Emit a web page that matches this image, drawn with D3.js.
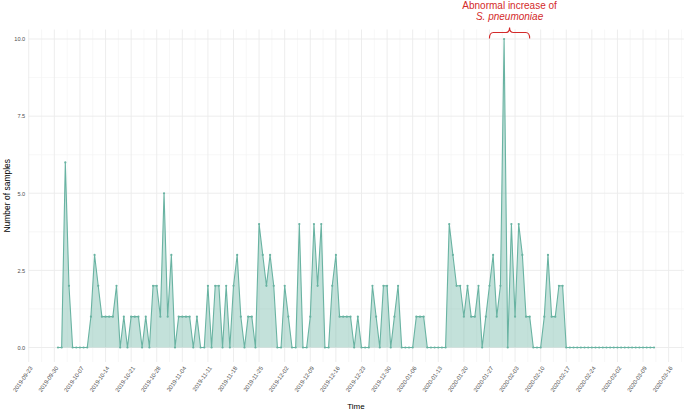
<!DOCTYPE html>
<html>
<head>
<meta charset="utf-8">
<script src="https://cdn.jsdelivr.net/npm/d3@7"></script>
<style>
  body { margin: 0; background: #fff; }
  text { font-family: "Liberation Sans", Arial, sans-serif; }
</style>
</head>
<body>
<svg id="chart" width="685" height="410"></svg>
<script>
const width = 685
const height = 410

// daily sample counts, starting 2019-10-01
const startDay = "2019-10-01"
const counts = [
  0, 0, 6, 2, 0, 0, 0, 0, 0, 1, 3, 2, 1, 1, 1, 1, 2, 0, 1, 0, 1, 1, 1, 0, 1, 0, 2, 2, 1, 5, 1, 3, 0, 1, 1, 1, 1,
  0, 1, 0, 0, 2, 0, 2, 2, 0, 2, 0, 2, 3, 1, 0, 1, 1, 0, 4, 3, 2, 3, 2, 0, 0, 2, 1, 0, 0, 4, 0, 0, 1, 4, 2, 4, 0, 0,
  2, 3, 1, 1, 1, 1, 0, 1, 0, 0, 0, 2, 1, 0, 2, 2, 0, 1, 2, 0, 0, 0, 0, 1, 1, 1, 0, 0, 0, 0, 0, 0, 4, 3, 2, 2, 1, 2,
  1, 1, 2, 0, 1, 2, 3, 1, 2, 10, 0, 4, 1, 4, 3, 1, 1, 0, 0, 0, 1, 3, 1, 1, 2, 2, 0,
  0, 0, 0, 0, 0, 0, 0, 0, 0, 0, 0, 0, 0, 0, 0, 0, 0, 0, 0, 0, 0, 0, 0, 0
]

const xTickLabels = [
  "2019-09-23", "2019-09-30", "2019-10-07", "2019-10-14", "2019-10-21", "2019-10-28",
  "2019-11-04", "2019-11-11", "2019-11-18", "2019-11-25", "2019-12-02", "2019-12-09",
  "2019-12-16", "2019-12-23", "2019-12-30", "2020-01-06", "2020-01-13", "2020-01-20",
  "2020-01-27", "2020-02-03", "2020-02-10", "2020-02-17", "2020-02-24", "2020-03-02",
  "2020-03-09", "2020-03-16"
]
const yTicks = [0, 2.5, 5, 7.5, 10]
const yMinor = [1.25, 3.75, 6.25, 8.75]

const annotationLines = ["Abnormal increase of", "S. pneumoniae"]
const bracketDays = ["2020-01-27", "2020-02-07"]

const parse = d3.utcParse("%Y-%m-%d")
const fmt = d3.utcFormat("%Y-%m-%d")
const start = parse(startDay)
const data = counts.map((v, i) => ({ date: d3.utcDay.offset(start, i), value: v }))

const x = d3
  .scaleUtc()
  .domain(d3.extent(data, (d) => d.date))
  .range([58, 654])

const y = d3.scaleLinear().domain([0, 10]).range([347.5, 39])

const pad = 0.05 * (x.range()[1] - x.range()[0])
const panelLeft = x.range()[0] - pad
const panelRight = x.range()[1] + pad
const panelTop = 29.5
const panelBottom = 362

const svg = d3.select("#chart")

const grid = svg.append("g")

// minor vertical lines halfway between weekly ticks
const majorDates = xTickLabels.map(parse)
const minorDates = majorDates.map((d) => new Date(+d + 3.5 * 864e5))

grid
  .selectAll("line.vminor")
  .data(minorDates.filter((d) => x(d) < panelRight))
  .join("line")
  .attr("x1", (d) => x(d))
  .attr("x2", (d) => x(d))
  .attr("y1", panelTop)
  .attr("y2", panelBottom)
  .attr("stroke", "#f3f3f3")
  .attr("stroke-width", 0.7)

grid
  .selectAll("line.hminor")
  .data(yMinor)
  .join("line")
  .attr("x1", panelLeft)
  .attr("x2", panelRight)
  .attr("y1", (d) => y(d))
  .attr("y2", (d) => y(d))
  .attr("stroke", "#f3f3f3")
  .attr("stroke-width", 0.7)

grid
  .selectAll("line.vmajor")
  .data(majorDates)
  .join("line")
  .attr("x1", (d) => x(d))
  .attr("x2", (d) => x(d))
  .attr("y1", panelTop)
  .attr("y2", panelBottom)
  .attr("stroke", "#ebebeb")
  .attr("stroke-width", 0.9)

grid
  .selectAll("line.hmajor")
  .data(yTicks)
  .join("line")
  .attr("x1", panelLeft)
  .attr("x2", panelRight)
  .attr("y1", (d) => y(d))
  .attr("y2", (d) => y(d))
  .attr("stroke", "#ebebeb")
  .attr("stroke-width", 0.9)

// area + line + points
const color = "#69b3a2"

const area = d3
  .area()
  .x((d) => x(d.date))
  .y0(y(0))
  .y1((d) => y(d.value))

const line = d3
  .line()
  .x((d) => x(d.date))
  .y((d) => y(d.value))

svg.append("path").datum(data).attr("d", area).attr("fill", color).attr("fill-opacity", 0.4)

svg
  .append("path")
  .datum(data)
  .attr("d", line)
  .attr("fill", "none")
  .attr("stroke", color)
  .attr("stroke-width", 1.1)

svg
  .append("g")
  .selectAll("circle")
  .data(data)
  .join("circle")
  .attr("cx", (d) => x(d.date))
  .attr("cy", (d) => y(d.value))
  .attr("r", 1.1)
  .attr("fill", color)

// y axis labels
const yAxis = d3
  .axisLeft(y)
  .tickValues(yTicks)
  .tickFormat(d3.format(".1f"))
  .tickSize(0)
  .tickPadding(3)

svg
  .append("g")
  .attr("transform", `translate(${panelLeft},0)`)
  .call(yAxis)
  .call((g) => g.select(".domain").remove())
  .selectAll("text")
  .attr("fill", "#4d4d4d")
  .style("font-size", "5.6px")

// x axis labels, rotated
const xAxis = d3
  .axisBottom(x)
  .tickValues(majorDates)
  .tickFormat(fmt)
  .tickSize(0)
  .tickPadding(0)

svg
  .append("g")
  .attr("transform", `translate(0,${panelBottom})`)
  .call(xAxis)
  .call((g) => g.select(".domain").remove())
  .selectAll("text")
  .attr("fill", "#4d4d4d")
  .style("font-size", "5.8px")
  .attr("text-anchor", "end")
  .attr("dy", "0.35em")
  .attr("y", 0)
  .attr("transform", "translate(2,5) rotate(-55)")

// axis titles
svg
  .append("text")
  .attr("x", (panelLeft + panelRight) / 2)
  .attr("y", 409)
  .attr("text-anchor", "middle")
  .style("font-size", "8px")
  .text("Time")

svg
  .append("text")
  .attr("transform", `translate(10,${(panelTop + panelBottom) / 2}) rotate(-90)`)
  .attr("text-anchor", "middle")
  .style("font-size", "8.5px")
  .text("Number of samples")

// annotation
const red = "#d32a2a"
const bx0 = x(parse(bracketDays[0]))
const bx1 = x(parse(bracketDays[1]))
const bm = (bx0 + bx1) / 2
const by = 32.5

svg
  .append("path")
  .attr(
    "d",
    `M${bx0},38.5 Q${bx0},${by} ${bx0 + 4},${by} L${bm - 4},${by} Q${bm},${by} ${bm},27.5 ` +
      `Q${bm},${by} ${bm + 4},${by} L${bx1 - 4},${by} Q${bx1},${by} ${bx1},38.5`
  )
  .attr("fill", "none")
  .attr("stroke", red)
  .attr("stroke-width", 1.1)

svg
  .append("text")
  .attr("x", bm)
  .attr("y", 8.5)
  .attr("text-anchor", "middle")
  .attr("fill", red)
  .style("font-size", "10px")
  .text(annotationLines[0])

svg
  .append("text")
  .attr("x", bm)
  .attr("y", 20)
  .attr("text-anchor", "middle")
  .attr("fill", red)
  .style("font-size", "10px")
  .style("font-style", "italic")
  .text(annotationLines[1])
</script>
</body>
</html>
